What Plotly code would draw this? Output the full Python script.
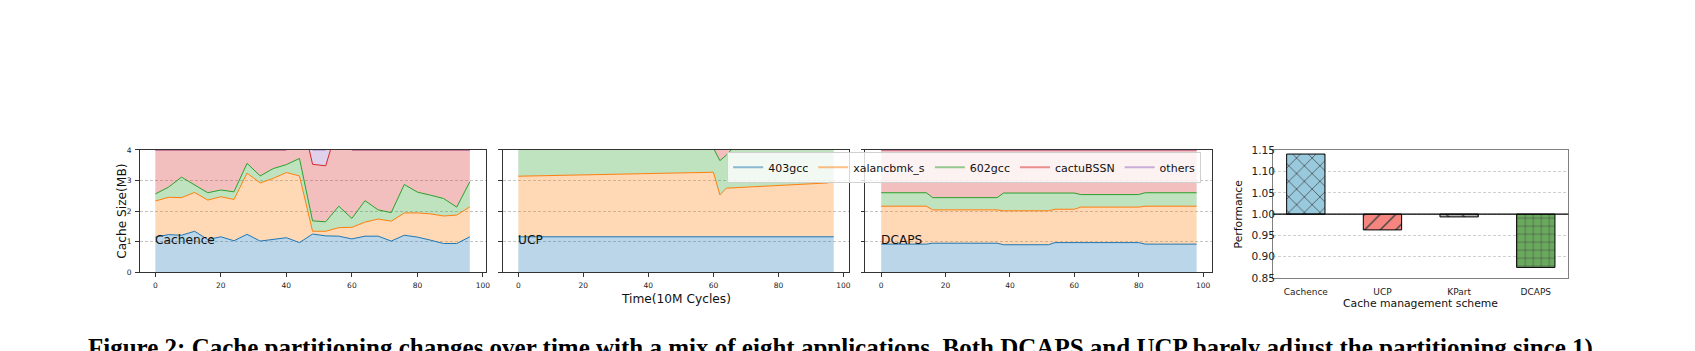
import plotly.graph_objects as go

W, H = 1695, 351

# ---------------- data ----------------
apps = ["403gcc", "xalancbmk_s", "602gcc", "cactuBSSN", "others"]
line_colors = ["#1f77b4", "#ff7f0e", "#2ca02c", "#d62728", "#9467bd"]
fill_colors = ["rgba(31,119,180,0.3)", "rgba(255,127,14,0.3)", "rgba(44,160,44,0.3)",
               "rgba(214,39,40,0.3)", "rgba(148,103,189,0.3)"]
legend_colors = ["rgba(31,119,180,0.5)", "rgba(255,127,14,0.5)", "rgba(44,160,44,0.5)",
                 "rgba(214,39,40,0.5)", "rgba(148,103,189,0.5)"]

# Cachence (MB per application over time)
t_cachence = [0, 4, 8, 12, 16, 20, 24, 28, 32, 36, 40, 44, 48, 52, 56, 60, 64, 68, 72, 76, 80, 84, 88, 92, 96]
cachence_403gcc = [1.15, 1.23, 1.21, 1.34, 1.07, 1.16, 1.03, 1.24, 1.02, 1.07, 1.13, 0.97, 1.25,
                   1.19, 1.18, 1.09, 1.18, 1.18, 1.02, 1.21, 1.15, 1.05, 0.94, 0.94, 1.16]
cachence_xalanc = [1.18, 1.22, 1.23, 1.27, 1.29, 1.31, 1.35, 2.00, 1.90, 2.00, 2.13, 2.18, 0.09,
                   0.15, 0.28, 0.38, 0.46, 0.56, 0.65, 0.73, 0.79, 0.86, 0.90, 0.93, 0.98]
cachence_602gcc = [0.23, 0.33, 0.67, 0.24, 0.24, 0.22, 0.25, 0.32, 0.23, 0.32, 0.26, 0.57, 0.34,
                   0.31, 0.70, 0.29, 0.70, 0.30, 0.28, 0.93, 0.68, 0.61, 0.57, 0.26, 0.82]
cachence_cactu = [1.44, 1.22, 0.89, 1.15, 1.40, 1.31, 1.37, 0.44, 0.85, 0.61, 0.48, 1.68, 1.85,
                  1.83, 2.74, 2.24, 1.66, 1.96, 2.05, 1.13, 1.38, 1.48, 1.59, 1.87, 1.04]
cachence_others = [0, 0, 0, 0, 0, 0, 0, 0, 0, 0, 0, 0, 0.47,
                   0.52, 0, 0, 0, 0, 0, 0, 0, 0, 0, 0, 0]

# UCP
t_ucp = [0, 60, 62, 64, 66, 95, 97]
ucp_403gcc = [1.16, 1.16, 1.16, 1.16, 1.16, 1.16, 1.16]
ucp_xalanc = [1.98, 2.11, 1.37, 1.59, 1.60, 1.76, 1.82]
ucp_602gcc = [0.92, 0.79, 1.12, 1.08, 1.30, 1.14, 1.08]
ucp_cactu = [0.14, 0.14, 0.55, 0.37, 0.14, 0.14, 0.14]
ucp_others = [0, 0, 0, 0, 0, 0, 0]

# DCAPS
t_dcaps = [0, 14, 16, 36, 38, 52, 54, 60, 62, 80, 82, 98]
dcaps_403gcc = [0.92, 0.92, 0.95, 0.95, 0.90, 0.90, 0.97, 0.97, 0.97, 0.97, 0.92, 0.92]
dcaps_xalanc = [1.24, 1.24, 1.09, 1.09, 1.11, 1.11, 1.09, 1.09, 1.16, 1.16, 1.24, 1.24]
dcaps_602gcc = [0.44, 0.44, 0.40, 0.40, 0.58, 0.58, 0.53, 0.53, 0.41, 0.41, 0.44, 0.44]
dcaps_cactu = [1.40, 1.40, 1.56, 1.56, 1.41, 1.41, 1.41, 1.41, 1.46, 1.46, 1.40, 1.40]
dcaps_others = [0, 0, 0, 0, 0, 0, 0, 0, 0, 0, 0, 0]

# Performance
schemes = ["Cachence", "UCP", "KPart", "DCAPS"]
performance = [1.141, 0.963, 0.9935, 0.875]
bar_colors = ["#99c9dc", "#f4857f", "#b8b8b8", "#6aaa5e"]
bar_hatch = ["x", "/", "\\", "+"]

x_ticks = [0, 20, 40, 60, 80, 100]
y_ticks = [0, 1, 2, 3, 4]
perf_ticks = [0.85, 0.90, 0.95, 1.00, 1.05, 1.10, 1.15]

caption = ("Figure 2: Cache partitioning changes over time with a mix of eight applications. "
           "Both DCAPS and UCP barely adjust the partitioning since 1)")

# ---------------- helpers ----------------
def px(x):
    return x / W


def py(y):
    return 1 - y / H


FONT = "DejaVu Sans"
fig = go.Figure()

panels = [
    ("x", "y", t_cachence, [cachence_403gcc, cachence_xalanc, cachence_602gcc, cachence_cactu, cachence_others]),
    ("x2", "y2", t_ucp, [ucp_403gcc, ucp_xalanc, ucp_602gcc, ucp_cactu, ucp_others]),
    ("x3", "y3", t_dcaps, [dcaps_403gcc, dcaps_xalanc, dcaps_602gcc, dcaps_cactu, dcaps_others]),
]
for xa, ya, t, series in panels:
    for i, s in enumerate(series):
        fig.add_trace(go.Scatter(
            x=t, y=s, mode="lines", stackgroup="sg_" + xa,
            line=dict(color=line_colors[i], width=1),
            fillcolor=fill_colors[i], showlegend=False,
            xaxis=xa, yaxis=ya, hoverinfo="skip"))

# legend entries
for i, name in enumerate(apps):
    fig.add_trace(go.Scatter(x=[None], y=[None], mode="lines", name=name,
                             line=dict(color=legend_colors[i], width=2),
                             xaxis="x", yaxis="y"))

# bars
fig.add_trace(go.Bar(
    x=schemes, y=[p - 1.0 for p in performance], base=1.0, width=0.5,
    marker=dict(color=bar_colors, line=dict(color="black", width=1),
                pattern=dict(shape=bar_hatch, fgcolor="black", fgopacity=1,
                             size=[11, 11, 11, 8], solidity=0.13)),
    showlegend=False, xaxis="x4", yaxis="y4", hoverinfo="skip"))


def xrange_of(t):
    span = max(t) - min(t)
    return [min(t) - 0.05 * span, max(t) + 0.05 * span]


spine = "#333333"
common_x = dict(showline=True, linecolor=spine, linewidth=1, mirror=True,
                ticks="outside", ticklen=3.5, tickcolor=spine, tickwidth=1,
                tickvals=x_ticks, showgrid=False, zeroline=False, ticklabelstandoff=2,
                tickfont=dict(family=FONT, size=7.5, color="#222"))
common_y = dict(showline=True, linecolor=spine, linewidth=1, mirror=True,
                ticks="outside", ticklen=3.5, tickcolor=spine, tickwidth=1,
                tickvals=y_ticks, range=[0, 4], showgrid=True, gridcolor="#c4c4c4",
                gridwidth=0.6, griddash="3px,2px", zeroline=False, ticklabelstandoff=2,
                tickfont=dict(family=FONT, size=7.5, color="#222"))

ydom = [py(275.7), py(149)]
fig.update_layout(
    xaxis=dict(domain=[px(140), px(487)], range=xrange_of(t_cachence), anchor="y", **common_x),
    yaxis=dict(domain=ydom, anchor="x", **common_y),
    xaxis2=dict(domain=[px(504), px(852)], range=xrange_of(t_ucp), anchor="y2", **common_x),
    yaxis2=dict(domain=ydom, anchor="x2", showticklabels=False, **common_y),
    xaxis3=dict(domain=[px(868), px(1216)], range=xrange_of(t_dcaps), anchor="y3", **common_x),
    yaxis3=dict(domain=ydom, anchor="x3", showticklabels=False, **common_y),
    xaxis4=dict(domain=[px(1277), px(1573)], range=[-0.425, 3.425], anchor="y4",
                showline=True, linecolor="#808080", linewidth=1, mirror=True,
                ticks="", showgrid=False, zeroline=False, type="category",
                ticklabelstandoff=5,
                tickfont=dict(family=FONT, size=9, color="#222")),
    yaxis4=dict(domain=[py(281.7), py(149.3)], range=[0.85, 1.15], anchor="x4",
                tickvals=perf_ticks, tickformat=".2f",
                showline=True, linecolor="#808080", linewidth=1, mirror=True,
                ticks="", showgrid=True, gridcolor="#d0d0d0", gridwidth=0.6,
                griddash="3px,2px", zeroline=False, ticklabelstandoff=-5,
                tickfont=dict(family=FONT, size=10.6, color="#222")),
)

fig.add_shape(type="line", xref="x4 domain", x0=0, x1=1, yref="y4", y0=1.0, y1=1.0,
              line=dict(color="black", width=1.2))

annotations = [
    dict(text="Cache Size(MB)", x=px(122), y=py(212.3), textangle=-90, size=12.2),
    dict(text="Time(10M Cycles)", x=px(678), y=py(303.5), size=12.2),
    dict(text="Performance", x=px(1242), y=py(215.5), textangle=-90, size=10.8),
    dict(text="Cache management scheme", x=px(1425), y=py(308.5), size=10.8),
]
for a in annotations:
    fig.add_annotation(text=a["text"], x=a["x"], y=a["y"], xref="paper", yref="paper",
                       showarrow=False, textangle=a.get("textangle", 0),
                       xanchor="center", yanchor="middle",
                       font=dict(family=FONT, size=a["size"], color="#111"))

for xa, ya, label in [("x", "y", "Cachence"), ("x2", "y2", "UCP"), ("x3", "y3", "DCAPS")]:
    fig.add_annotation(text=label, x=0, y=1.07, xref=xa, yref=ya, showarrow=False,
                       xanchor="left", yanchor="bottom", yshift=-9, xshift=-2,
                       font=dict(family=FONT, size=12.2, color="#111"))

fig.add_annotation(text="<b>" + caption + "</b>", x=px(86.7), y=py(354.3), xref="paper", yref="paper",
                   showarrow=False, xanchor="left", yanchor="middle",
                   font=dict(family="Liberation Serif", size=25, color="#000"))

fig.update_layout(
    width=W, height=H, margin=dict(l=0, r=0, t=0, b=0),
    paper_bgcolor="white", plot_bgcolor="white",
    showlegend=True,
    legend=dict(orientation="h", x=px(729.3), y=py(151), xanchor="left", yanchor="top",
                bgcolor="rgba(255,255,255,0.8)", bordercolor="#d0d0d0", borderwidth=1,
                font=dict(family=FONT, size=11, color="#111"), traceorder="normal",
                itemwidth=30, tracegroupgap=0),
)

fig.write_html("out.html")
